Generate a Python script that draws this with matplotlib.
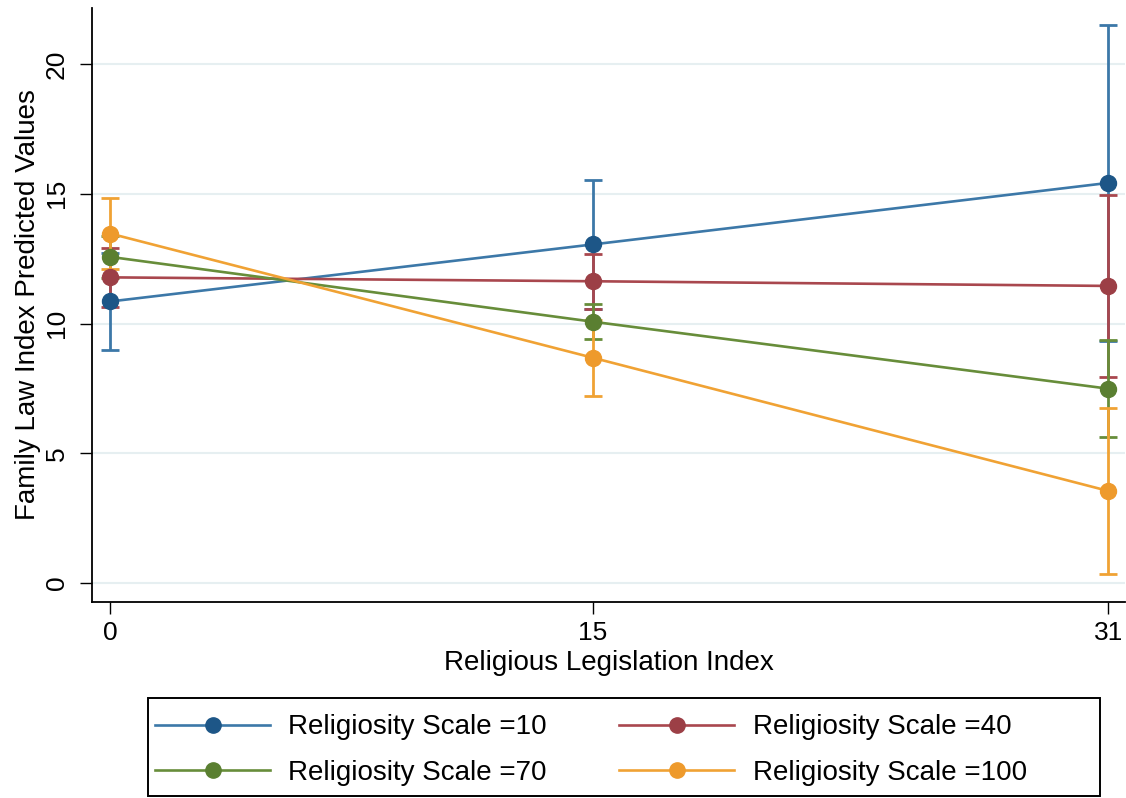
import matplotlib
matplotlib.use("Agg")
import matplotlib.pyplot as plt
from matplotlib.lines import Line2D
from matplotlib.patches import Rectangle

plt.rcParams['font.family'] = ['Liberation Sans', 'DejaVu Sans']

x_vals = [0, 15, 31]
series_labels = ["Religiosity Scale =10", "Religiosity Scale =40",
                 "Religiosity Scale =70", "Religiosity Scale =100"]
means = {
    "10": [10.85, 13.05, 15.42],
    "40": [11.78, 11.63, 11.45],
    "70": [12.57, 10.07, 7.49],
    "100": [13.47, 8.68, 3.55],
}
errs = {
    "10": [1.85, 2.47, 6.1],
    "40": [1.13, 1.05, 3.52],
    "70": [0.8, 0.67, 1.86],
    "100": [1.38, 1.46, 3.2],
}
line_colors = ["#3c78a8", "#a9474e", "#678d3a", "#f0a234"]
marker_colors = ["#1d5687", "#9c3f46", "#5a7f31", "#ee9a2c"]

W, H = 1126, 798
fig = plt.figure(figsize=(W / 100, H / 100), dpi=100)
ax = fig.add_axes([92 / W, 1 - 602 / H, (1125 - 92) / W, (602 - 8) / H])

keys = list(means.keys())
for i, k in enumerate(keys):
    ax.errorbar(x_vals, means[k], yerr=errs[k], fmt='none', ecolor=line_colors[i],
                elinewidth=2.0, capsize=6.5, capthick=2.0, zorder=2 + i * 0.1)
for i, k in enumerate(keys):
    ax.plot(x_vals, means[k], color=line_colors[i], lw=1.9, zorder=3 + i * 0.1)
for i, k in enumerate(keys):
    ax.plot(x_vals, means[k], 'o', color=marker_colors[i], ms=11.5, zorder=4 + i * 0.1)

ax.set_xlim(-0.56, 31.52)
ax.set_ylim(-0.73, 22.16)
ax.set_xticks(x_vals)
ax.set_yticks([0, 5, 10, 15, 20])
ax.set_yticklabels(["0", "5", "10", "15", "20"], rotation=90, va='center')
ax.grid(axis='y', color='#e6eff1', lw=1.5)
ax.set_axisbelow(True)
for s in ['top', 'right']:
    ax.spines[s].set_visible(False)
for s in ['left', 'bottom']:
    ax.spines[s].set_linewidth(1.3)
    ax.spines[s].set_color('black')
ax.tick_params(axis='both', labelsize=19, length=8.5, width=1.0, direction='out')
ax.tick_params(axis='y', pad=8)
ax.tick_params(axis='x', pad=5)
ax.set_xlabel("Religious Legislation Index", fontsize=20, labelpad=4)
ax.set_ylabel("Family Law Index Predicted Values", fontsize=20, labelpad=3)

order = [0, 2, 1, 3]
handles = [Line2D([0], [0], color=line_colors[i], lw=1.9, marker='o', ms=11,
                  markerfacecolor=marker_colors[i], markeredgecolor=marker_colors[i])
           for i in order]
labels = [series_labels[i] for i in order]
leg = fig.legend(handles, labels, loc='center left',
                 bbox_to_anchor=(155 / W, 1 - 750 / H),
                 ncol=2, fontsize=20, frameon=False,
                 handlelength=4.15, handletextpad=0.65, borderpad=0,
                 labelspacing=0.7, columnspacing=2.6, borderaxespad=0)
fig.patches.append(Rectangle((148 / W, 1 - 796 / H), (1100 - 148) / W, (796 - 698) / H,
                             transform=fig.transFigure, fill=False, edgecolor='black',
                             lw=1.4, figure=fig))

fig.savefig("out.png", dpi=100)
